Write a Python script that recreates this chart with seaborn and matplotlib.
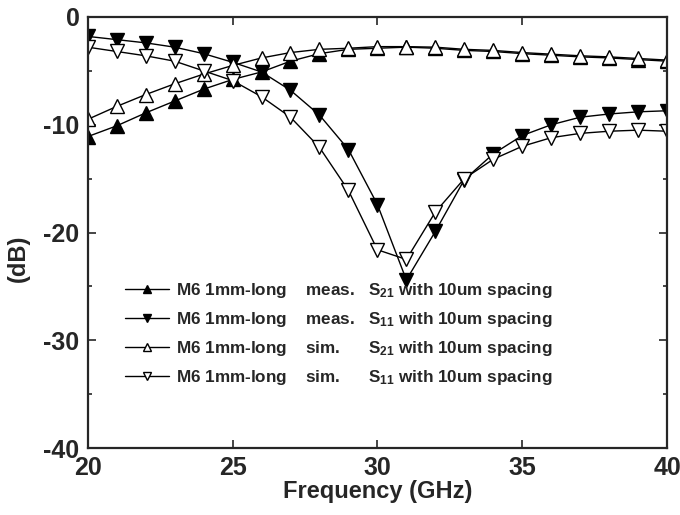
import numpy as np
import pandas as pd
import seaborn as sns
import matplotlib
matplotlib.use('Agg')
import matplotlib.pyplot as plt

freq = list(range(20, 41))

meas_s21 = [-11.1, -10.1, -8.9, -7.8, -6.7, -5.8, -5.1, -4.1, -3.4, -3.0, -2.9,
            -2.8, -2.9, -3.1, -3.2, -3.4, -3.55, -3.7, -3.8, -3.95, -4.1]
meas_s11 = [-1.8, -2.1, -2.4, -2.8, -3.4, -4.2, -5.1, -6.8, -9.1, -12.3, -17.4,
            -24.4, -19.9, -15.1, -12.7, -11.0, -10.0, -9.3, -9.0, -8.8, -8.7]
sim_s21 = [-9.5, -8.3, -7.2, -6.2, -5.3, -4.5, -3.8, -3.3, -3.0, -2.9, -2.75,
           -2.75, -2.8, -3.0, -3.1, -3.3, -3.45, -3.6, -3.7, -3.85, -4.0]
sim_s11 = [-2.8, -3.2, -3.6, -4.1, -5.0, -5.9, -7.4, -9.3, -12.1, -16.1, -21.6,
           -22.5, -18.1, -15.0, -13.2, -12.0, -11.2, -10.8, -10.6, -10.5, -10.6]

labels = ['M6 1mm-long    meas.   S$_{21}$ with 10um spacing',
          'M6 1mm-long    meas.   S$_{11}$ with 10um spacing',
          'M6 1mm-long    sim.      S$_{21}$ with 10um spacing',
          'M6 1mm-long    sim.      S$_{11}$ with 10um spacing']

sns.set_style('ticks')
plt.rcParams['font.family'] = ['Liberation Sans', 'DejaVu Sans']
plt.rcParams['font.weight'] = 'bold'
plt.rcParams['axes.unicode_minus'] = False
plt.rcParams['mathtext.fontset'] = 'custom'
plt.rcParams['mathtext.rm'] = 'Liberation Sans:bold'
plt.rcParams['mathtext.it'] = 'Liberation Sans:bold'
plt.rcParams['mathtext.bf'] = 'Liberation Sans:bold'

fig, ax = plt.subplots(figsize=(6.8, 5.15), dpi=100)
fig.subplots_adjust(left=0.129, right=0.981, top=0.967, bottom=0.130)

series = [(meas_s21, '^', 'black'), (meas_s11, 'v', 'black'),
          (sim_s21, '^', 'white'), (sim_s11, 'v', 'white')]
for (vals, mk, fc), lab in zip(series, labels):
    sns.lineplot(x=freq, y=vals, ax=ax, color='black', lw=1, marker=mk,
                 markersize=9.5, markerfacecolor=fc, markeredgecolor='black',
                 markeredgewidth=1, label=lab)

ax.set_xlim(20, 40)
ax.set_ylim(-40, 0)
ax.set_xticks([20, 25, 30, 35, 40])
ax.set_yticks([0, -10, -20, -30, -40])
ax.set_yticks([-5, -15, -25, -35], minor=True)
ax.tick_params(which='both', direction='in', top=True, right=True, width=1.2)
ax.tick_params(which='major', length=6, labelsize=18, pad=6)
ax.tick_params(which='minor', length=3)
for lbl in ax.get_xticklabels() + ax.get_yticklabels():
    lbl.set_fontweight('bold')
for sp in ax.spines.values():
    sp.set_linewidth(1.6)

ax.set_xlabel('Frequency (GHz)', fontsize=17, fontweight='bold', labelpad=0)
ax.set_ylabel('(dB)', fontsize=17, fontweight='bold')
ax.yaxis.set_label_coords(-0.10, 0.44)

leg = ax.legend(loc='lower left', bbox_to_anchor=(0.052, 0.125), frameon=False,
                fontsize=12.3, markerscale=0.6, handlelength=2.6,
                handletextpad=0.4, labelspacing=0.6, borderaxespad=0)
for t in leg.get_texts():
    t.set_fontweight('bold')

fig.savefig('out.png', dpi=100)
